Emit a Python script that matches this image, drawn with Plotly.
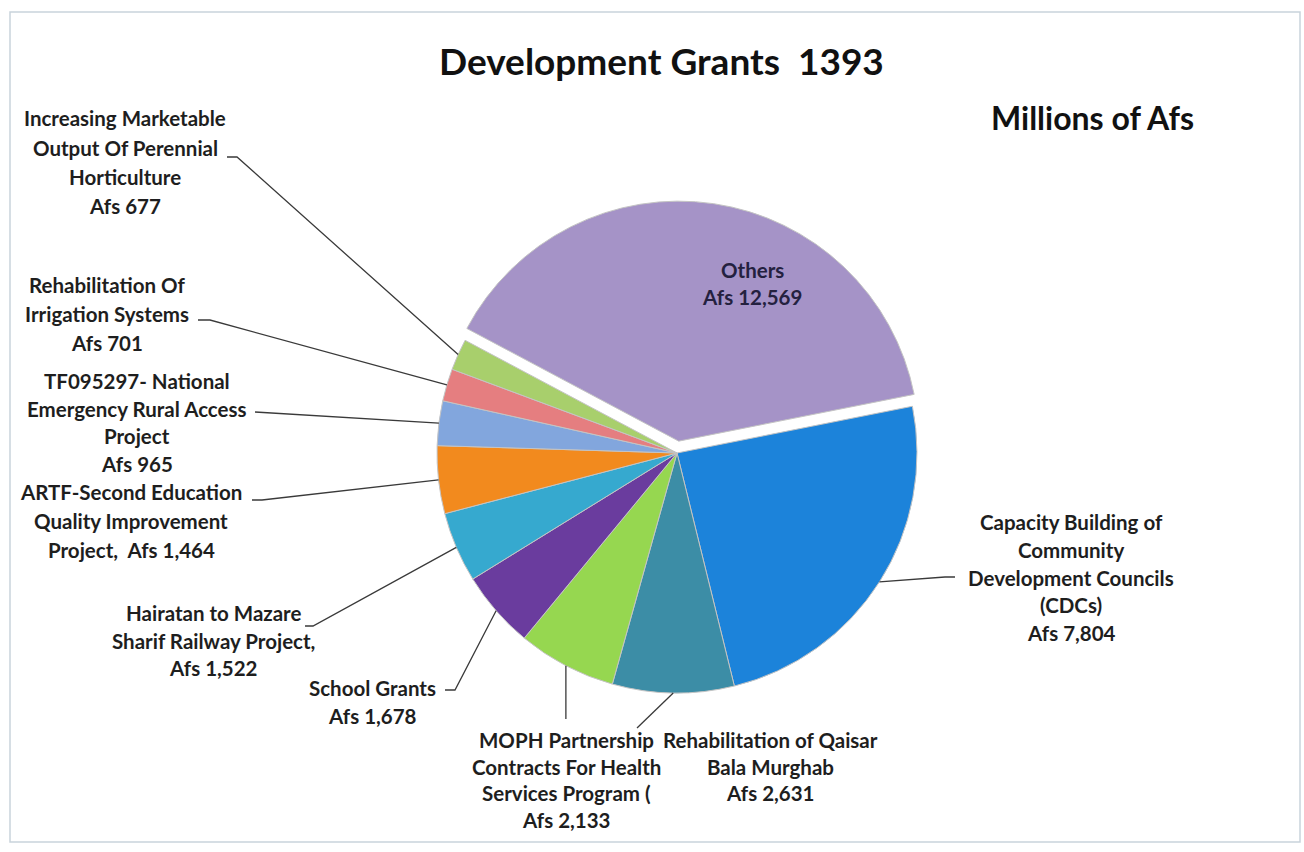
import math
import plotly.graph_objects as go

# ---- data -------------------------------------------------------------
names = [
    "Others",
    "Capacity Building of Community Development Councils (CDCs)",
    "Rehabilitation of Qaisar Bala Murghab",
    "MOPH Partnership Contracts For Health Services Program (",
    "School Grants",
    "Hairatan to Mazare Sharif Railway Project,",
    "ARTF-Second Education Quality Improvement Project,",
    "TF095297- National Emergency Rural Access Project",
    "Rehabilitation Of Irrigation Systems",
    "Increasing Marketable Output Of Perennial Horticulture",
]
values = [12569, 7804, 2631, 2133, 1678, 1522, 1464, 965, 701, 677]

# wrapped label lines, "{v}" is replaced by the formatted value
label_lines = [
    ["Others", "Afs {v}"],
    ["Capacity Building of", "Community", "Development Councils", "(CDCs)", "Afs {v}"],
    ["Rehabilitation of Qaisar", "Bala Murghab", "Afs {v}"],
    ["MOPH Partnership", "Contracts For Health", "Services Program (", "Afs {v}"],
    ["School Grants", "Afs {v}"],
    ["Hairatan to Mazare", "Sharif Railway Project,", "Afs {v}"],
    ["ARTF-Second Education", "Quality Improvement", "Project,  Afs {v}"],
    ["TF095297- National", "Emergency Rural Access", "Project", "Afs {v}"],
    ["Rehabilitation Of", "Irrigation Systems", "Afs {v}"],
    ["Increasing Marketable", "Output Of Perennial", "Horticulture", "Afs {v}"],
]

colors = ["#A593C7", "#1C83DA", "#3C8DA6", "#96D750", "#6A3C9E",
          "#36A9CF", "#F28A1E", "#82A6DD", "#E57E80", "#A8CF6C"]

title_text = "Development Grants  1393"
unit_text = "Millions of Afs"

# ---- layout geometry (pixels, y measured from top) --------------------
W, H = 1304, 852
CX, CY, R = 677, 453, 240
PULL = 0.05
ROT = -62

# label block: (centre x, first-line y, line spacing)
label_pos = [
    (752, 270, 27),
    (1071, 522, 27.8),
    (770, 740, 26.5),
    (566, 740, 26.5),
    (372, 688, 28),
    (213, 613, 27.5),
    (131, 492, 29),
    (137, 381, 27.7),
    (107, 285, 29),
    (125, 118.5, 29.3),
]

# leader line start points near each label (None = no leader)
leader_start = [
    None,
    [(955, 577), (945, 577)],
    [(637, 728)],
    "vertical:719",
    [(445, 690), (455, 690)],
    [(305, 626), (313, 626)],
    [(252, 500), (262, 500)],
    [(255, 412)],
    [(198, 320), (210, 320)],
    [(227, 157), (237, 157)],
]


def px(x):
    return x / W


def py(y):
    return 1 - y / H


total = float(sum(values))

# slice mid-point on the rim, from the cumulative share of each value
anchors = []
cum = 0.0
for v in values:
    a = math.radians(ROT + 360.0 * (cum + v / 2.0) / total)
    anchors.append((CX + R * math.sin(a), CY - R * math.cos(a)))
    cum += v

fig = go.Figure()

ext = R * (1 + PULL)
fig.add_trace(go.Pie(
    labels=names,
    values=values,
    sort=False,
    direction="clockwise",
    rotation=ROT,
    pull=[PULL] + [0] * (len(values) - 1),
    textinfo="none",
    hoverinfo="label+value",
    marker=dict(colors=colors, line=dict(color="#c4c4c4", width=1)),
    domain=dict(x=[px(CX - ext), px(CX + ext)], y=[py(CY + ext), py(CY - ext)]),
    showlegend=False,
))

shapes = [dict(type="rect", xref="paper", yref="paper",
               x0=px(10), x1=px(1300), y0=py(842), y1=py(12),
               line=dict(color="#C9D3DB", width=1.5), layer="below")]

for i, start in enumerate(leader_start):
    if start is None:
        continue
    ax, ay = anchors[i]
    if isinstance(start, str):
        y0 = float(start.split(":")[1])
        pts = [(ax, y0), (ax, ay)]
    else:
        pts = list(start) + [(ax, ay)]
    path = "M " + " L ".join(f"{px(x):.5f},{py(y):.5f}" for x, y in pts)
    shapes.append(dict(type="path", xref="paper", yref="paper", path=path,
                       line=dict(color="#3a3a3a", width=1.3)))

annotations = []
for i, lines in enumerate(label_lines):
    x, y0, dy = label_pos[i]
    col = "#24213F" if i == 0 else "#1E1E1E"
    for k, t in enumerate(lines):
        annotations.append(dict(
            x=px(x), y=py(y0 + k * dy), xref="paper", yref="paper",
            text=t.replace("{v}", f"{values[i]:,}"), showarrow=False,
            xanchor="center", yanchor="middle",
            font=dict(family="Lato", size=20.5, color=col, weight="bold"),
        ))

annotations.append(dict(x=px(661), y=py(60), xref="paper", yref="paper",
                        text=title_text, showarrow=False,
                        xanchor="center", yanchor="middle",
                        font=dict(family="Lato", size=37, color="#111111", weight="bold")))
annotations.append(dict(x=px(1092), y=py(117), xref="paper", yref="paper",
                        text=unit_text, showarrow=False,
                        xanchor="center", yanchor="middle",
                        font=dict(family="Lato", size=32, color="#111111", weight="bold")))

fig.update_layout(
    width=W, height=H,
    margin=dict(l=0, r=0, t=0, b=0),
    paper_bgcolor="white",
    plot_bgcolor="white",
    shapes=shapes,
    annotations=annotations,
)

fig.write_html("out.html")
